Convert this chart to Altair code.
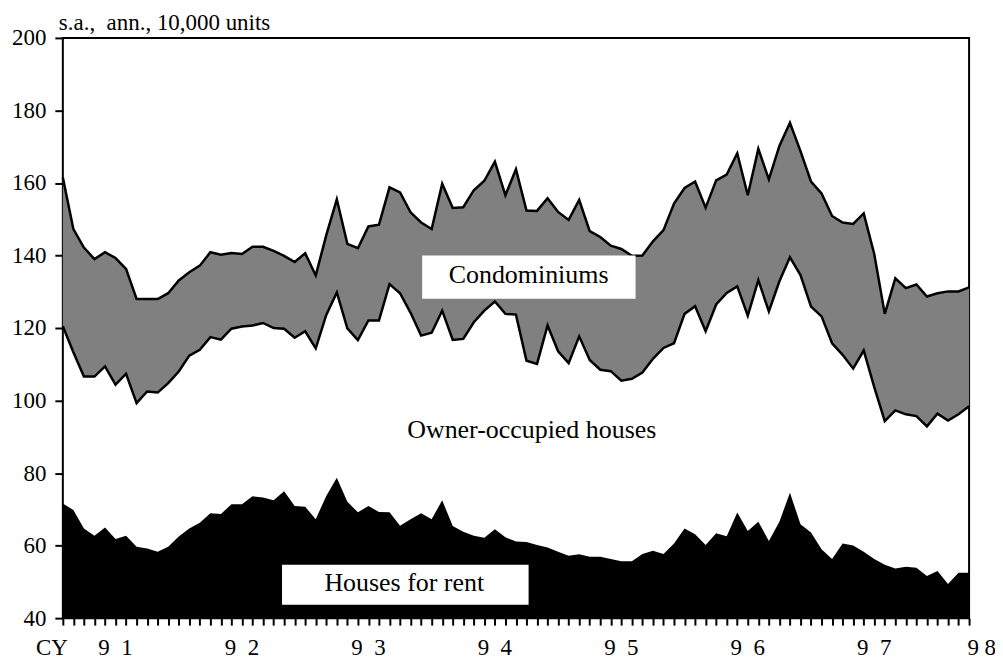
import altair as alt
import pandas as pd

# Monthly series, Jan 1991 - Mar 1998 (s.a., annualised, 10,000 units)
condo = [161.5, 147.3, 142.2, 139.0, 140.9, 139.3, 136.3, 128.0, 128.0, 128.0,
         129.6, 133.1, 135.4, 137.2, 140.9, 140.2, 140.7, 140.4, 142.4, 142.4,
         141.3, 139.9, 138.2, 140.6, 134.5, 145.6, 155.5, 143.2, 142.0, 148.0,
         148.5, 158.8, 157.4, 151.9, 149.1, 147.3, 159.8, 153.1, 153.3, 158.0,
         160.6, 165.9, 156.6, 163.8, 152.4, 152.3, 155.8, 152.0, 149.8, 155.3,
         146.7, 145.1, 142.7, 141.8, 139.9, 140.0, 143.9, 147.0, 154.3, 158.6,
         160.4, 153.2, 160.7, 162.3, 168.2, 156.6, 169.4, 161.0, 170.2, 176.6,
         168.8, 160.4, 157.1, 150.9, 149.1, 148.7, 151.6, 140.4, 123.9, 133.7,
         131.0, 132.0, 128.7, 129.6, 130.1, 130.1, 131.2]

owner = [120.5, 113.3, 106.6, 106.6, 109.4, 104.4, 107.4, 99.3, 102.5, 102.2,
         104.8, 108.0, 112.4, 114.0, 117.5, 116.8, 119.8, 120.4, 120.7, 121.4,
         120.0, 119.8, 117.3, 119.1, 114.4, 123.6, 129.8, 119.9, 116.7, 122.1,
         122.1, 132.1, 129.6, 124.2, 117.9, 118.7, 124.8, 116.7, 117.0, 121.6,
         124.8, 127.3, 123.9, 123.7, 111.0, 110.1, 120.7, 113.6, 110.3, 117.7,
         111.2, 108.5, 108.1, 105.5, 106.0, 107.7, 111.5, 114.5, 115.8, 123.9,
         126.0, 119.1, 126.5, 129.7, 131.5, 123.4, 133.2, 124.6, 132.9, 139.5,
         134.6, 125.9, 123.2, 115.8, 112.6, 108.8, 113.8, 103.7, 94.3, 97.3,
         96.2, 95.7, 92.9, 96.4, 94.5, 96.2, 98.4]

rent = [71.6, 69.8, 64.7, 62.7, 65.0, 61.8, 62.7, 59.7, 59.2, 58.3,
        59.7, 62.5, 64.7, 66.3, 68.9, 68.7, 71.4, 71.4, 73.6, 73.3,
        72.5, 75.0, 70.9, 70.7, 67.3, 73.7, 78.7, 72.1, 69.2, 70.9,
        69.3, 69.2, 65.5, 67.3, 68.9, 67.3, 72.5, 65.4, 63.8, 62.7,
        62.2, 64.5, 62.3, 61.1, 61.0, 60.2, 59.5, 58.3, 57.2, 57.6,
        56.9, 56.9, 56.3, 55.7, 55.7, 57.7, 58.6, 57.7, 60.6, 64.7,
        63.1, 60.2, 63.4, 62.6, 69.1, 64.0, 66.6, 61.3, 66.6, 74.6,
        65.9, 63.6, 59.0, 56.3, 60.6, 60.0, 58.3, 56.3, 54.7, 53.7,
        54.2, 53.9, 51.6, 53.0, 49.4, 52.5, 52.5]

year_labels = ["9\u00a0 1", "9\u00a0 2", "9\u00a0 3", "9\u00a0 4",
               "9\u00a0 5", "9\u00a0 6", "9\u00a0 7", "9 8"]
year_label_month = [5, 17, 29, 41, 53, 65, 77, 87.2]

series_labels = ["Condominiums", "Owner-occupied houses", "Houses for rent"]
label_month = [44.2, 44.5, 32.4]
label_value = [132.4, 89.6, 47.5]

box_x1 = [34.1, 20.8]
box_x2 = [54.35, 44.2]
box_y1 = [128.1, 43.7]
box_y2 = [140.0, 54.7]

Y_MIN, Y_MAX = 40, 200
W, H = 909, 582
FONT = "Times New Roman, Liberation Serif, serif"

n = len(condo)
df = pd.DataFrame({
    "m": list(range(n)),
    "condo": condo,
    "owner": owner,
    "rent": rent,
    "base": [Y_MIN] * n,
})
boxes = pd.DataFrame({"x1": box_x1, "x2": box_x2, "y1": box_y1, "y2": box_y2})
labels = pd.DataFrame({"t": series_labels, "m": label_month, "v": label_value})
years = pd.DataFrame({"t": year_labels, "m": year_label_month})

xscale = alt.Scale(domain=[0, n - 1], nice=False, zero=False)
yscale = alt.Scale(domain=[Y_MIN, Y_MAX], nice=False, zero=False)
xaxis = alt.Axis(values=list(range(n)), labels=False, tickSize=7, tickWidth=2,
                 tickColor="black", domain=False, grid=False, title=None)
yaxis = alt.Axis(values=list(range(Y_MIN, Y_MAX + 1, 20)), tickSize=8, tickWidth=2,
                 tickColor="black", labelFontSize=23, labelFont=FONT,
                 labelColor="black", labelPadding=9, domain=False, grid=False,
                 title=None)


def X(field):
    return alt.X(field, scale=xscale, axis=xaxis)


def Y(field):
    return alt.Y(field, scale=yscale, axis=yaxis)


base = alt.Chart(df)

grey = base.mark_area(color="#808080").encode(x=X("m:Q"), y=Y("condo:Q"), y2="owner:Q")
black = base.mark_area(color="black").encode(x=X("m:Q"), y=Y("rent:Q"), y2="base:Q")
line_c = base.mark_line(color="black", strokeWidth=2.5).encode(x=X("m:Q"), y=Y("condo:Q"))
line_o = base.mark_line(color="black", strokeWidth=2.5).encode(x=X("m:Q"), y=Y("owner:Q"))

rects = alt.Chart(boxes).mark_rect(fill="white").encode(
    x=X("x1:Q"), x2="x2:Q", y=Y("y1:Q"), y2="y2:Q")

texts = alt.Chart(labels).mark_text(font=FONT, fontSize=26, color="black",
                                    align="center", baseline="alphabetic").encode(
    x=X("m:Q"), y=Y("v:Q"), text="t:N")

year_text = alt.Chart(years).mark_text(font=FONT, fontSize=23, color="black",
                                       align="center", baseline="alphabetic").encode(
    x=X("m:Q"), y=alt.value(H + 37), text="t:N")

cy_text = alt.Chart(pd.DataFrame({"t": ["CY"]})).mark_text(
    font=FONT, fontSize=23, color="black", align="left", baseline="alphabetic").encode(
    x=alt.value(-27), y=alt.value(H + 37), text="t:N")

unit_text = alt.Chart(pd.DataFrame({"t": ["s.a.,\u00a0 ann., 10,000 units"]})).mark_text(
    font=FONT, fontSize=23, color="black", align="left", baseline="alphabetic").encode(
    x=alt.value(-4), y=alt.value(-8), text="t:N")

chart = alt.layer(grey, black, line_c, line_o, rects, texts, year_text, cy_text, unit_text).properties(
    width=W, height=H,
    padding={"left": 55, "top": 29, "right": 26, "bottom": 43},
    autosize=alt.AutoSizeParams(type="none"),
    background="white",
).configure_view(stroke="black", strokeWidth=2)

chart.save("out.html", embed_options={"renderer": "svg", "actions": False})
